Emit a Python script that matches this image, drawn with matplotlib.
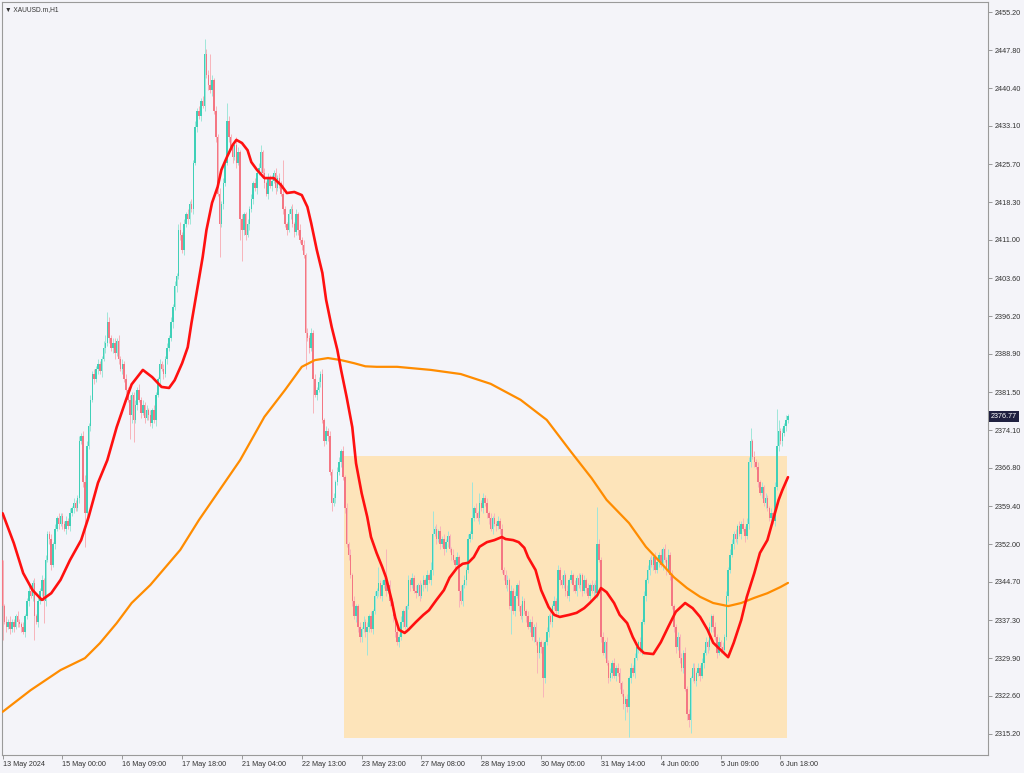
import matplotlib
matplotlib.use("Agg")
import matplotlib.pyplot as plt
import matplotlib.transforms as mtransforms
from matplotlib.patches import Rectangle

# --- data (XAUUSD H1, 13 May - 6 Jun 2024) ---
first_open = 2349.0
closes = [
    2340, 2337, 2336, 2337, 2335.5, 2337, 2336, 2338, 2337, 2336.5,
    2336, 2335, 2338, 2341, 2343, 2342, 2344.5, 2338, 2337, 2341,
    2343, 2345, 2341, 2349, 2354, 2353, 2348, 2352, 2355, 2357,
    2356, 2357.5, 2356, 2355, 2356.5, 2355.5, 2358, 2359, 2360, 2359,
    2361, 2372, 2373, 2364, 2358, 2371, 2375, 2380, 2385, 2384,
    2386, 2387, 2385.5, 2388, 2390, 2391, 2395, 2392, 2390, 2391,
    2389, 2391.5, 2388, 2386, 2387, 2384, 2382, 2380, 2377, 2381,
    2376, 2379, 2382, 2380, 2377.5, 2379, 2376.5, 2378, 2377, 2375.5,
    2378, 2376, 2381, 2384, 2387, 2386, 2385, 2388, 2390, 2392,
    2395, 2398, 2402, 2404, 2413, 2412, 2409, 2414, 2416, 2415,
    2418, 2417, 2426, 2433, 2436, 2435, 2438, 2437, 2447, 2443,
    2441, 2440, 2442, 2436, 2431, 2420, 2414, 2418, 2422, 2426,
    2434, 2431, 2429, 2427, 2429.5, 2426, 2428, 2415, 2413, 2416,
    2412, 2414, 2417, 2419, 2422, 2421, 2424, 2425, 2428, 2424,
    2422, 2420, 2423, 2421.5, 2422.5, 2424, 2421, 2423, 2422, 2420,
    2417, 2414, 2413, 2416, 2417, 2414, 2412.5, 2416, 2413, 2411,
    2410, 2408, 2393, 2392, 2390, 2393, 2384, 2381, 2382, 2383.5,
    2385, 2376, 2372, 2374, 2373, 2366, 2360, 2361, 2364, 2366,
    2368, 2370, 2365, 2359, 2352, 2350, 2346, 2341, 2338, 2340,
    2336, 2334, 2335.5, 2337, 2335, 2336, 2338, 2335.5, 2339, 2342,
    2343, 2344.5, 2342, 2344, 2345, 2343, 2344, 2341, 2340, 2338,
    2335, 2333, 2334, 2337, 2339, 2336, 2340, 2345, 2344, 2345.5,
    2343, 2342.5, 2344, 2342, 2344, 2345, 2344, 2346, 2345, 2347,
    2354, 2355, 2353, 2354.5, 2352, 2353, 2351, 2352.5, 2353.5, 2351,
    2350, 2349, 2348, 2349.5, 2343, 2341, 2344, 2345, 2347, 2353,
    2354, 2357, 2359, 2358, 2357, 2360, 2359, 2361, 2360, 2358,
    2357, 2355, 2357, 2356, 2355.5, 2356.5, 2355, 2347, 2346, 2344,
    2345, 2340, 2343, 2339, 2342, 2344, 2340, 2338, 2341, 2339,
    2338, 2336, 2337, 2334, 2336, 2333, 2331, 2333, 2332, 2326,
    2333, 2335, 2338, 2337, 2340, 2341, 2339, 2347, 2345, 2344,
    2346, 2343, 2342, 2345, 2346, 2344, 2343, 2345.5, 2344, 2346,
    2343, 2345, 2343.5, 2342, 2344, 2343, 2344, 2342.5, 2352, 2349,
    2334, 2331, 2333, 2329, 2326, 2327, 2329, 2326.5, 2328, 2327,
    2325, 2323, 2321, 2322, 2320.5, 2326, 2328, 2327, 2330, 2332,
    2333, 2331.5, 2337, 2342, 2345, 2347, 2349, 2348, 2349.5, 2347,
    2348.5, 2350, 2348, 2351, 2349, 2347, 2350, 2346, 2340, 2336,
    2332, 2334, 2330, 2328, 2331, 2324, 2319, 2318, 2326, 2328,
    2325.5, 2327, 2328, 2326.5, 2329, 2331, 2333, 2332, 2336, 2338,
    2336, 2334, 2331, 2333, 2332, 2331.5, 2334, 2342, 2347, 2350,
    2352, 2354, 2353, 2355.5, 2354, 2356, 2355, 2353.5, 2356, 2368,
    2372, 2369, 2368, 2367, 2364, 2362, 2363, 2360, 2361, 2359,
    2357, 2358, 2356.5, 2363, 2371, 2374, 2372, 2373.5, 2375, 2376, 2376.77,
]

# wick lengths above / below the body, in half-dollar steps, one digit per bar
wick_up = (
    "0121211121 1211221212 1212112121 2111212121 1212321212 1211331212 "
    "2121212121 1212121212 1211212121 2121231212 1212121232 2121212121 "
    "1212132121 1212121231 2121212121 2112121212 1212121212 1212121212 "
    "2121212121 1212121212 1612121212 1212121212 1212121213 4121212121 "
    "1212121212 1212141212 1212121212 2121212121 1212121212 1212121212 "
    "2121212121 1212121272 1212121212 2121212121 1212121212 2121212121 "
    "1212121212 2121212121 1212121212 2121212122 2121212121 1212141212 1"
)
wick_dn = (
    "2121212121 2121212412 1212122121 2121212121 1212621212 1212121212 "
    "2121212123 2121212121 2121212121 1212121212 2121212121 2121216121 "
    "1212121812 2121212121 2121212121 2121212121 2121212121 2121212121 "
    "1212121212 2221212121 1212121212 2121212121 1212121212 2121212121 "
    "2121312121 1212121212 2121212121 2121212121 2121218221 2121212121 "
    "1212121212 2121212121 2121212121 2126212121 2121212121 1212121212 "
    "2121212321 1212121212 2121212121 1212121212 2121212121 1212121212 1"
)

# notable highs / lows (bar index -> price)
high_marks = {56: 2397.0, 108: 2450.0, 111: 2447.0, 120: 2437.5, 150: 2426.5,
              205: 2351.0, 230: 2358.4, 251: 2364.0, 318: 2359.2,
              400: 2374.5, 414: 2378.3}
low_marks = {0: 2333.5, 17: 2333.4, 22: 2336.7, 44: 2351.5, 68: 2372.5,
             70: 2371.8, 116: 2407.7, 128: 2407.0, 162: 2386.0, 166: 2377.5,
             176: 2358.5, 195: 2330.5, 244: 2339.8, 272: 2334.5, 289: 2322.4,
             335: 2314.6, 368: 2315.4}

# moving averages (bar index, value)
red_bars = [0, 6, 11, 16, 21, 26, 31, 36, 42, 46, 51, 56, 61, 66, 69, 75, 80, 85,
            89, 92, 96, 99, 101, 104, 107, 109, 112, 115, 117, 120, 123, 125, 128,
            131, 133, 136, 140, 145, 149, 152, 156, 160, 163, 165, 168, 171, 173,
            176, 179, 181, 184, 187, 189, 192, 195, 197, 200, 203, 205, 208, 210,
            212, 215, 217, 221, 225, 228, 232, 236, 239, 243, 246, 249, 252, 255,
            259, 263, 267, 269, 273, 276, 279, 281, 285, 288, 292, 295, 298, 303,
            307, 311, 314, 318, 320, 323, 327, 330, 334, 337, 340, 343, 348, 352,
            356, 360, 365, 369, 373, 377, 380, 384, 388, 391, 395, 398, 402, 405,
            409, 412, 415, 417, 420]
red_vals = [2358.0, 2352.2, 2346.4, 2343.1, 2341.2, 2342.5, 2345.1, 2348.9, 2352.8,
            2357.3, 2363.9, 2368.3, 2374.7, 2380.0, 2383.0, 2385.8, 2384.4, 2382.5,
            2382.3, 2383.8, 2387.1, 2390.2, 2394.9, 2401.3, 2407.7, 2412.9, 2418.2,
            2421.3, 2424.6, 2427.1, 2429.4, 2430.4, 2429.8, 2428.4, 2426.1, 2424.6,
            2423.0, 2423.0, 2421.6, 2420.1, 2420.3, 2419.7, 2417.4, 2414.3, 2409.1,
            2404.6, 2399.4, 2394.1, 2389.7, 2385.8, 2380.5, 2374.7, 2367.7, 2361.9,
            2357.3, 2353.4, 2350.3, 2347.6, 2345.6, 2341.2, 2337.7, 2335.4, 2334.8,
            2335.4, 2336.9, 2338.3, 2339.2, 2341.2, 2343.1, 2345.5, 2347.4, 2348.2,
            2348.4, 2349.5, 2351.5, 2352.4, 2352.8, 2353.4, 2353.0, 2352.8, 2352.4,
            2351.3, 2349.5, 2347.0, 2343.1, 2339.8, 2338.3, 2337.9, 2338.3, 2338.7,
            2339.6, 2340.6, 2342.1, 2343.5, 2342.7, 2340.6, 2338.3, 2336.7, 2334.0,
            2331.9, 2330.9, 2330.7, 2333.0, 2336.0, 2338.9, 2340.6, 2339.6, 2337.9,
            2335.4, 2332.9, 2331.5, 2330.1, 2332.9, 2337.3, 2341.8, 2346.4, 2350.3,
            2352.8, 2356.7, 2360.6, 2362.5, 2365.0]

orange_bars = [0, 15, 31, 44, 52, 61, 69, 79, 95, 105, 116, 127, 140, 151, 160, 167,
               174, 181, 188, 194, 200, 211, 229, 245, 261, 277, 291, 304, 315, 323,
               335, 344, 352, 359, 366, 373, 380, 388, 395, 402, 409, 416, 420]
orange_vals = [2319.5, 2323.7, 2327.6, 2329.9, 2332.8, 2336.7, 2340.6, 2344.1,
               2350.9, 2356.7, 2362.5, 2368.3, 2376.7, 2381.9, 2386.4, 2387.7,
               2388.1, 2387.7, 2387.1, 2386.5, 2386.4, 2386.4, 2385.8, 2385.0,
               2383.1, 2380.0, 2376.1, 2369.9, 2364.8, 2360.6, 2356.1, 2351.5,
               2348.4, 2345.6, 2343.5, 2341.8, 2340.6, 2340.0, 2340.6, 2341.6,
               2342.5, 2343.7, 2344.5]

# shaded range box
zone_start, zone_end = 182.4, 419.4
zone_low, zone_high = 2314.4, 2369.1

price_ticks = [2455.20, 2447.80, 2440.40, 2433.10, 2425.70, 2418.30, 2411.00,
               2403.60, 2396.20, 2388.90, 2381.50, 2374.10, 2366.80, 2359.40,
               2352.00, 2344.70, 2337.30, 2329.90, 2322.60, 2315.20]
time_ticks = [0, 32, 64, 96, 128, 160, 192, 224, 256, 288, 320, 352, 384, 416]
time_labels = ["13 May 2024", "15 May 00:00", "16 May 09:00", "17 May 18:00",
               "21 May 04:00", "22 May 13:00", "23 May 23:00", "27 May 08:00",
               "28 May 19:00", "30 May 05:00", "31 May 14:00", "4 Jun 00:00",
               "5 Jun 09:00", "6 Jun 18:00"]
last_price = 2376.77

# --- build OHLC ---
up = [int(c) * 0.5 for c in wick_up if c.isdigit()]
dn = [int(c) * 0.5 for c in wick_dn if c.isdigit()]
opens = [first_open] + closes[:-1]
highs, lows = [], []
for i, (o, c) in enumerate(zip(opens, closes)):
    highs.append(high_marks.get(i, max(o, c) + up[i]))
    lows.append(low_marks.get(i, min(o, c) - dn[i]))

BG = "#f4f4f9"
BULL, BEAR = "#3fd0b8", "#f47683"
BULL_W, BEAR_W = "#9fe6da", "#f8b4bb"

plt.rcParams["font.family"] = ["Liberation Sans", "DejaVu Sans"]

fig = plt.figure(figsize=(10.24, 7.73), dpi=100, facecolor=BG)
ax = fig.add_axes([0.002, 0.0233, 0.9629, 0.9741], facecolor=BG)

ax.add_patch(Rectangle((zone_start, zone_low), zone_end - zone_start,
                       zone_high - zone_low, facecolor="#fde4ba",
                       edgecolor="none", zorder=1))

xs = list(range(len(closes)))
wick_cols = [BULL_W if c >= o else BEAR_W for o, c in zip(opens, closes)]
body_cols = [BULL if c >= o else BEAR for o, c in zip(opens, closes)]
ax.vlines(xs, lows, highs, colors=wick_cols, linewidth=0.7, zorder=2)
bottoms = [min(o, c) for o, c in zip(opens, closes)]
heights = [max(abs(c - o), 0.15) for o, c in zip(opens, closes)]
ax.bar(xs, heights, bottom=bottoms, width=0.8, color=body_cols,
       edgecolor="none", zorder=3)

ax.plot(orange_bars, orange_vals, color="#ff8c00", linewidth=1.6,
        solid_joinstyle="round", solid_capstyle="round", zorder=4)
ax.plot(red_bars, red_vals, color="#ff1010", linewidth=1.9,
        solid_joinstyle="round", solid_capstyle="round", zorder=5)

ax.set_xlim(-0.3, 527.0)
ax.set_ylim(2311.13, 2457.14)

ax.yaxis.tick_right()
ax.set_yticks(price_ticks)
ax.set_yticklabels([f"{p:.2f}" for p in price_ticks])
ax.set_xticks(time_ticks)
ax.set_xticklabels(time_labels, ha="left")
ax.tick_params(axis="both", length=3, width=0.6, color="#8a8a8a",
               labelsize=5.2, labelcolor="#333333", pad=1.5)

for sp in ax.spines.values():
    sp.set_color("#9a9a9a")
    sp.set_linewidth(0.8)

trans = mtransforms.blended_transform_factory(ax.transAxes, ax.transData)
ax.text(1.003, last_price, f"{last_price:.2f}", transform=trans, ha="left",
        va="center", fontsize=5.2, color="white", zorder=10, clip_on=False,
        bbox=dict(boxstyle="square,pad=0.25", facecolor="#1f2040", edgecolor="none"))

ax.text(0.003, 0.9906, "\u25bc XAUUSD.m,H1", transform=ax.transAxes,
        ha="left", va="center", fontsize=4.8, color="#333333")

fig.savefig("out.png", dpi=100, facecolor=BG)
